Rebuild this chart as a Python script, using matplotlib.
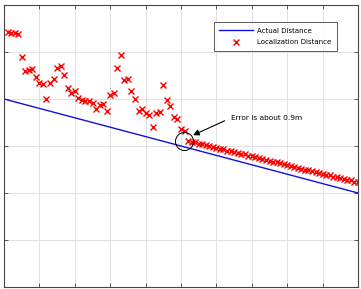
import numpy as np
from matplotlib import pyplot as plt

# actual distance (straight line)
actual_x = [0, 10]
actual_y = [4.0, 2.0]

# localization estimates, x = 0.1 ... 10.0
loc_x = [round(0.1 * k, 1) for k in range(1, 101)]
loc_y = [5.43, 5.40, 5.40, 5.38, 4.89, 4.60, 4.62, 4.64, 4.47, 4.34,
         4.32, 4.00, 4.34, 4.43, 4.66, 4.70, 4.51, 4.23, 4.13, 4.17,
         4.02, 3.98, 3.96, 3.96, 3.91, 3.79, 3.87, 3.89, 3.74, 4.09,
         4.13, 4.66, 4.94, 4.40, 4.43, 4.17, 4.00, 3.74, 3.79, 3.70,
         3.66, 3.40, 3.70, 3.72, 4.30, 3.98, 3.85, 3.62, 3.57, 3.36,
         3.32, 3.11, 3.09, 3.08, 3.05, 3.04, 3.02, 2.99, 2.98, 2.96,
         2.94, 2.93, 2.90, 2.89, 2.87, 2.85, 2.83, 2.82, 2.79, 2.78,
         2.76, 2.74, 2.72, 2.71, 2.68, 2.67, 2.65, 2.63, 2.61, 2.60,
         2.57, 2.56, 2.54, 2.52, 2.50, 2.49, 2.46, 2.45, 2.43, 2.41,
         2.39, 2.38, 2.35, 2.34, 2.32, 2.30, 2.28, 2.27, 2.24, 2.23]

circle_pt = (5.08, 3.1)
arrow_tip = (5.34, 3.23)
note_pos = (6.42, 3.6)
note_text = "Error is about 0.9m"

fig = plt.figure(figsize=(3.61, 2.89), dpi=100)
ax = fig.add_axes([4/361, 2/289, 354/361, 282/289])

ax.plot(actual_x, actual_y, color='#1010e0', lw=1.0, label='Actual Distance')
ax.plot(loc_x, loc_y, ls='none', marker='x', color='#ff0000', ms=5, mew=1.0,
        label='Localization Distance')

ax.plot([circle_pt[0]], [circle_pt[1]], marker='o', ms=13, mfc='none',
        mec='black', mew=0.7)
ax.annotate(note_text, xy=arrow_tip, xytext=note_pos, fontsize=5.3,
            ha='left', va='center',
            arrowprops=dict(arrowstyle='-|>', color='black', lw=0.8,
                            mutation_scale=9, relpos=(0, 0.5),
                            shrinkA=3, shrinkB=0))

ax.set_xlim(0, 10)
ax.set_ylim(0, 6)
ax.set_xticks(range(0, 11))
ax.set_yticks(range(0, 7))
ax.set_xticklabels([])
ax.set_yticklabels([])
ax.tick_params(direction='in', length=3, top=True, right=True, width=0.6,
               color='#444444')
ax.grid(True, color='#dcdcdc', lw=0.6)
ax.set_axisbelow(True)
for s in ax.spines.values():
    s.set_color('#444444')
    s.set_linewidth(0.8)

leg = ax.legend(loc='upper left', bbox_to_anchor=(0.583, 0.952), fontsize=5,
                frameon=True, fancybox=False, edgecolor='#333333',
                handlelength=4.8, borderpad=0.8, labelspacing=0.8,
                handletextpad=0.6)
leg.get_frame().set_linewidth(0.7)

fig.savefig('out.png', dpi=100)
